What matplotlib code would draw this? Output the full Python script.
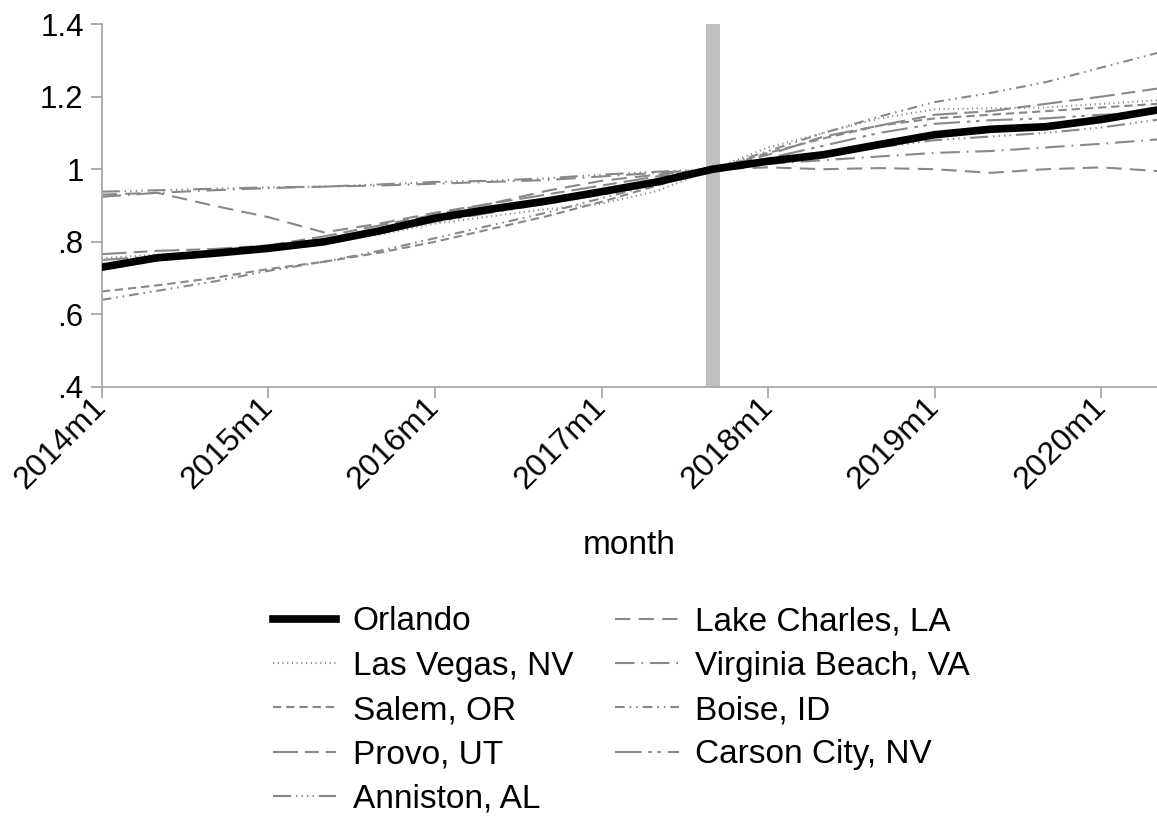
import matplotlib
matplotlib.use("Agg")
import matplotlib.pyplot as plt

plt.rcParams['font.family'] = ['Liberation Sans', 'DejaVu Sans']
plt.rcParams['lines.scale_dashes'] = False

# month index: 0 = 2014m1, sampled every 4 months up to 2020m5
months = [0, 4, 8, 12, 16, 20, 24, 28, 32, 36, 40, 44, 48, 52, 56, 60, 64, 68, 72, 76]

orlando = [.730, .756, .768, .782, .800, .830, .865, .890, .912, .938,
           .965, 1.000, 1.022, 1.040, 1.068, 1.095, 1.110, 1.117, 1.137, 1.163]
las_vegas = [.755, .765, .772, .785, .800, .820, .850, .870, .890, .905,
             .940, 1.000, 1.060, 1.100, 1.140, 1.165, 1.168, 1.170, 1.180, 1.190]
salem = [.663, .680, .700, .725, .745, .770, .800, .835, .870, .910,
         .955, 1.000, 1.045, 1.085, 1.120, 1.140, 1.150, 1.160, 1.170, 1.180]
provo = [.766, .775, .780, .790, .815, .845, .875, .905, .930, .955,
         .980, 1.000, 1.040, 1.090, 1.120, 1.150, 1.160, 1.180, 1.200, 1.222]
anniston = [.938, .942, .946, .950, .952, .958, .965, .968, .975, .985,
            .993, 1.000, 1.020, 1.040, 1.060, 1.080, 1.090, 1.100, 1.115, 1.136]
lake_charles = [.930, .935, .900, .868, .826, .850, .880, .905, .940, .968,
                .985, 1.000, 1.005, 1.000, 1.003, 1.000, .990, 1.000, 1.005, .995]
virginia_beach = [.924, .935, .942, .948, .952, .955, .960, .965, .970, .980,
                  .990, 1.000, 1.015, 1.025, 1.035, 1.045, 1.050, 1.060, 1.070, 1.082]
boise = [.640, .665, .690, .720, .745, .775, .810, .845, .880, .920,
         .960, 1.000, 1.050, 1.100, 1.145, 1.185, 1.210, 1.240, 1.280, 1.320]
carson_city = [.750, .760, .765, .780, .800, .825, .855, .880, .905, .930,
               .960, 1.000, 1.030, 1.065, 1.100, 1.125, 1.135, 1.140, 1.150, 1.155]

tick_pos = [0, 12, 24, 36, 48, 60, 72]
tick_labels = ['2014m1', '2015m1', '2016m1', '2017m1', '2018m1', '2019m1', '2020m1']
y_ticks = [.4, .6, .8, 1.0, 1.2, 1.4]
y_labels = ['.4', '.6', '.8', '1', '1.2', '1.4']
base_month = 44  # 2017m9

gray = '#888888'
fig = plt.figure(figsize=(11.57, 8.19), dpi=100)
ax = fig.add_axes([101.7 / 1157, 1 - 387 / 819, 1 - 101.7 / 1157, (387 - 24) / 819])

ax.axvspan(base_month - 0.5, base_month + 0.5, color='#c0c0c0', lw=0, zorder=0)

series = [
    ('Orlando', orlando, dict(color='black', lw=5.5, ls='-')),
    ('Las Vegas, NV', las_vegas, dict(color=gray, lw=1.5, ls=(0, (0.8, 2.6)))),
    ('Salem, OR', salem, dict(color=gray, lw=1.5, ls=(0, (6, 3.5)))),
    ('Provo, UT', provo, dict(color=gray, lw=1.5, ls=(0, (18, 5, 10, 5)))),
    ('Anniston, AL', anniston, dict(color=gray, lw=1.5, ls=(0, (13, 3.5, 1, 3, 1, 3, 1, 3, 1, 3.5)))),
    ('Lake Charles, LA', lake_charles, dict(color=gray, lw=1.5, ls=(0, (11, 6)))),
    ('Virginia Beach, VA', virginia_beach, dict(color=gray, lw=1.5, ls=(0, (14, 5, 1.2, 5)))),
    ('Boise, ID', boise, dict(color=gray, lw=1.5, ls=(0, (7, 3.5, 1.2, 3.5, 1.2, 3.5)))),
    ('Carson City, NV', carson_city, dict(color=gray, lw=1.5, ls=(0, (19, 5, 2.5, 4, 2.5, 5)))),
]
handles = []
for name, vals, st in series:
    h, = ax.plot(months, vals, label=name, **st)
    handles.append(h)
# draw Orlando on top
handles[0].set_zorder(5)

ax.set_xlim(0, 76)
ax.set_ylim(0.4, 1.4)
ax.set_yticks(y_ticks)
ax.set_yticklabels(y_labels)
ax.set_xticks(tick_pos)
ax.set_xticklabels(tick_labels, rotation=45, ha='right', va='center', rotation_mode='anchor')

for s in ['top', 'right']:
    ax.spines[s].set_visible(False)
for s in ['left', 'bottom']:
    ax.spines[s].set_color('#a8a8a8')
    ax.spines[s].set_linewidth(1.3)
ax.tick_params(axis='both', colors='#a8a8a8', width=1.3, length=8, labelcolor='black', labelsize=22.5)
ax.tick_params(axis='y', pad=5)
ax.tick_params(axis='x', pad=3, labelsize=23)

fig.text(629 / 1157, 1 - 545 / 819, 'month', ha='center', va='center', fontsize=24)

fig.legend(handles=handles, loc='upper center', bbox_to_anchor=(0.537, 1 - 583 / 819), ncol=2,
           frameon=False, fontsize=24, handlelength=1.9, handletextpad=0.5,
           columnspacing=1.27, labelspacing=0.4, borderpad=0.2)

fig.savefig('out.png', dpi=100)
